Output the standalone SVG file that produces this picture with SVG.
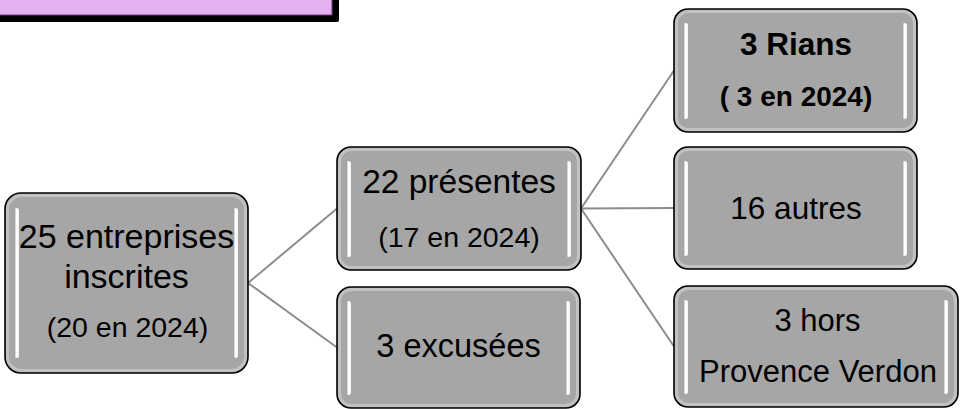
<svg xmlns="http://www.w3.org/2000/svg" width="960" height="409" viewBox="0 0 960 409">
<defs>
<style>
.box{fill:#a6a6a6;stroke:#000;stroke-width:1.6}
.rim{fill:none;stroke:#fff;stroke-opacity:.3;stroke-width:3}
.hl{fill:url(#hg)}
.t{font-family:"Liberation Sans",Arial,sans-serif;fill:#000;text-anchor:middle}
.b{font-weight:bold}
.c{stroke:#8c8c8c;stroke-width:2;fill:none}
</style>
<linearGradient id="hg" x1="0" y1="0" x2="1" y2="0">
<stop offset="0" stop-color="#8a8a8a"/>
<stop offset="0.45" stop-color="#ffffff"/>
<stop offset="1" stop-color="#f4f4f4"/>
</linearGradient>
</defs>
<rect width="960" height="409" fill="#fff"/>

<g id="banner">
<rect x="-10" y="-10" width="349" height="32" rx="2" fill="#000"/>
<rect x="-10" y="-10" width="342" height="25" fill="#e4b0ef" stroke="#6e3f78" stroke-width="1"/>
</g>

<g id="connectors">
<line class="c" x1="248" y1="283" x2="337" y2="208.5"/>
<line class="c" x1="248" y1="283" x2="337" y2="347.5"/>
<line class="c" x1="581" y1="208.5" x2="674" y2="70.5"/>
<line class="c" x1="581" y1="208.5" x2="674" y2="208"/>
<line class="c" x1="581" y1="208.5" x2="674" y2="346.5"/>
</g>

<g id="n1">
<rect class="box" x="5" y="193" width="243" height="180" rx="16"/>
<rect class="rim" x="7.5" y="195.5" width="238" height="175" rx="14"/>
<rect class="hl" x="14" y="208" width="5" height="150" rx="2.5"/>
<rect class="hl" x="233" y="208" width="5" height="150" rx="2.5"/>
<text class="t" x="126.5" y="248" font-size="34">25 entreprises</text>
<text class="t" x="126.5" y="288" font-size="34">inscrites</text>
<text class="t" x="127.5" y="337" font-size="28.5">(20 en 2024)</text>
</g>

<g id="n2">
<rect class="box" x="337" y="147" width="244" height="123" rx="14"/>
<rect class="rim" x="339.5" y="149.5" width="239" height="118" rx="12"/>
<rect class="hl" x="346" y="161" width="5" height="96" rx="2.5"/>
<rect class="hl" x="566" y="161" width="5" height="96" rx="2.5"/>
<text class="t" x="459" y="193" font-size="33.5">22 présentes</text>
<text class="t" x="459" y="247" font-size="28.5">(17 en 2024)</text>
</g>

<g id="n3">
<rect class="box" x="337" y="287" width="243" height="121" rx="14"/>
<rect class="rim" x="339.5" y="289.5" width="238" height="116" rx="12"/>
<rect class="hl" x="346" y="301" width="5" height="94" rx="2.5"/>
<rect class="hl" x="565" y="301" width="5" height="94" rx="2.5"/>
<text class="t" x="458.5" y="357" font-size="32.5">3 excusées</text>
</g>

<g id="n4">
<rect class="box" x="674" y="9" width="243" height="123" rx="14"/>
<rect class="rim" x="676.5" y="11.5" width="238" height="118" rx="12"/>
<rect class="hl" x="683" y="23" width="5" height="96" rx="2.5"/>
<rect class="hl" x="902" y="23" width="5" height="96" rx="2.5"/>
<text class="t b" x="796" y="55" font-size="31.5">3 Rians</text>
<text class="t b" x="796" y="106" font-size="28">( 3 en 2024)</text>
</g>

<g id="n5">
<rect class="box" x="674" y="147" width="243" height="122" rx="14"/>
<rect class="rim" x="676.5" y="149.5" width="238" height="117" rx="12"/>
<rect class="hl" x="683" y="161" width="5" height="95" rx="2.5"/>
<rect class="hl" x="902" y="161" width="5" height="95" rx="2.5"/>
<text class="t" x="796" y="219" font-size="31.5">16 autres</text>
</g>

<g id="n6">
<rect class="box" x="674" y="286" width="284" height="121" rx="14"/>
<rect class="rim" x="676.5" y="288.5" width="279" height="116" rx="12"/>
<rect class="hl" x="683" y="300" width="5" height="94" rx="2.5"/>
<rect class="hl" x="943" y="300" width="5" height="94" rx="2.5"/>
<text class="t" x="817.5" y="331" font-size="31">3 hors</text>
<text class="t" x="818" y="382" font-size="31">Provence Verdon</text>
</g>
</svg>
